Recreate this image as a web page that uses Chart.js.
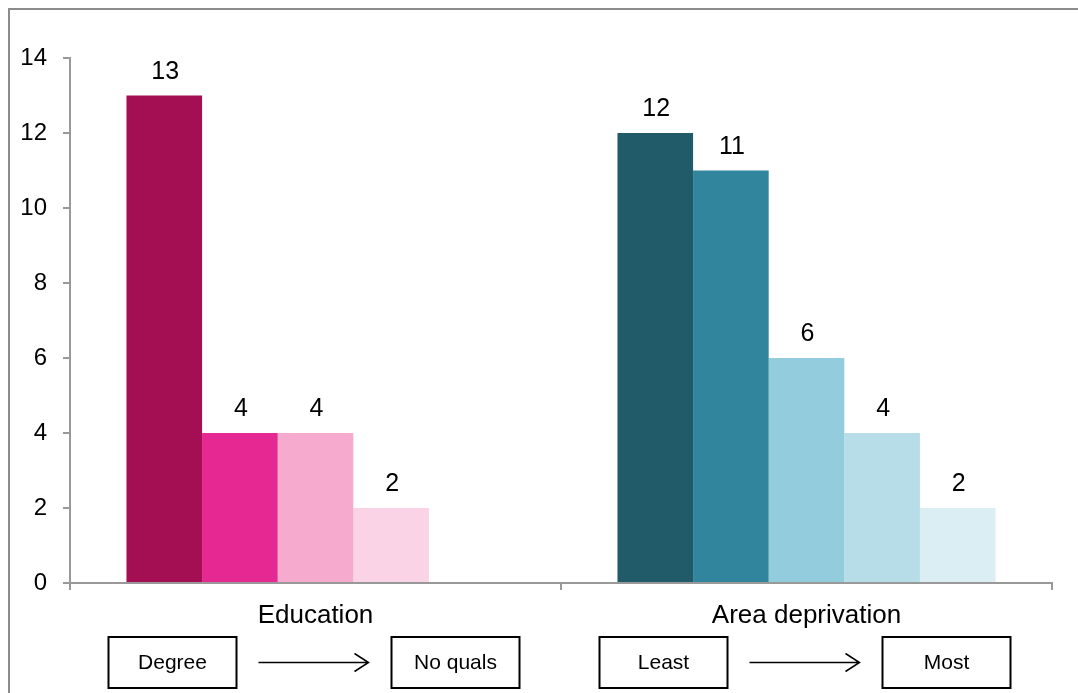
<!DOCTYPE html>
<html>
<head>
<meta charset="utf-8">
<script src="https://cdn.jsdelivr.net/npm/chart.js@4"></script>
<style>
  html, body { margin: 0; padding: 0; background: #fff; overflow: hidden; }
  #wrap { position: relative; width: 1078px; height: 693px; }
  #frame { position: absolute; left: 8px; top: 8px; width: 1100px; height: 720px; border: 2px solid #8c8c8c; box-sizing: border-box; pointer-events: none; }
</style>
</head>
<body>
<div id="wrap">
  <canvas id="chart" width="1078" height="693"></canvas>
  <div id="frame"></div>
</div>
<script>
// 分类与数据
const categories = ['Education', 'Area deprivation'];
const educationValues = [13, 4, 4, 2];
const deprivationValues = [12, 11, 6, 4, 2];
const educationColors = ['#A30F52', '#E62893', '#F6AACD', '#FAD3E6'];
const deprivationColors = ['#215B69', '#31869E', '#93CCDD', '#B7DEE8', '#DAEEF3'];
const yTicks = [0, 2, 4, 6, 8, 10, 12, 14];
// 每组下方的说明框
const groupEnds = [['Degree', 'No quals'], ['Least', 'Most']];

const FONT = 'Arial, "Liberation Sans", sans-serif';

// 5 个系列，每个系列两个分类
const datasets = deprivationValues.map((_, i) => ({
    data: [educationValues[i] ?? null, deprivationValues[i]],
    backgroundColor: [educationColors[i] || '#fff', deprivationColors[i]],
    borderWidth: 0,
    barPercentage: 1,
    categoryPercentage: 0.77
}));

// 柱顶数值
const valueLabels = {
    id: 'valueLabels',
    afterDatasetsDraw(chart) {
        const ctx = chart.ctx;
        ctx.save();
        ctx.fillStyle = '#000';
        ctx.font = '25px ' + FONT;
        ctx.textAlign = 'center';
        ctx.textBaseline = 'alphabetic';
        chart.data.datasets.forEach((ds, di) => {
            chart.getDatasetMeta(di).data.forEach((bar, i) => {
                const v = ds.data[i];
                if (v === null || v === undefined) return;
                ctx.fillText(String(v), bar.x + 1, bar.y - 17);
            });
        });
        ctx.restore();
    }
};

// 下方的框和箭头
const rangeBoxes = {
    id: 'rangeBoxes',
    afterDraw(chart) {
        const ctx = chart.ctx;
        const x = chart.scales.x;
        const top = 637, h = 51, w = 128, mid = top + h / 2;
        ctx.save();
        ctx.strokeStyle = '#000';
        ctx.lineWidth = 2;
        ctx.fillStyle = '#000';
        ctx.font = '21px ' + FONT;
        ctx.textAlign = 'center';
        ctx.textBaseline = 'middle';
        groupEnds.forEach((pair, i) => {
            const c = x.getPixelForValue(i);
            [c - 143, c + 140].forEach((bx, j) => {
                ctx.strokeRect(bx - w / 2, top, w, h);
                ctx.fillText(pair[j], bx, mid + 1);
            });
            // 箭头
            const a0 = c - 57, a1 = c + 53;
            ctx.lineWidth = 1.5;
            ctx.beginPath();
            ctx.moveTo(a0, mid);
            ctx.lineTo(a1, mid);
            ctx.moveTo(a1 - 14, mid - 9);
            ctx.lineTo(a1, mid);
            ctx.lineTo(a1 - 14, mid + 9);
            ctx.stroke();
            ctx.lineWidth = 2;
        });
        ctx.restore();
    }
};

new Chart(document.getElementById('chart').getContext('2d'), {
    type: 'bar',
    data: { labels: categories, datasets: datasets },
    options: {
        responsive: false,
        animation: false,
        layout: { padding: { left: 0, right: 26, top: 58, bottom: 0 } },
        plugins: { legend: { display: false }, tooltip: { enabled: false } },
        scales: {
            x: {
                grid: { display: true, drawOnChartArea: false, offset: true, tickLength: 7, color: '#999', lineWidth: 2 },
                border: { display: true, color: '#999', width: 2 },
                ticks: { color: '#000', font: { family: FONT, size: 26 }, padding: 10 },
                afterFit(s) { s.height = 110; }
            },
            y: {
                min: 0,
                max: 14,
                grid: { display: true, drawOnChartArea: false, tickLength: 7, color: '#999', lineWidth: 2 },
                border: { display: true, color: '#999', width: 2 },
                afterBuildTicks(s) { s.ticks = yTicks.map(v => ({ value: v })); },
                ticks: { color: '#000', font: { family: FONT, size: 24 }, padding: 16 },
                afterFit(s) { s.width = 70; }
            }
        }
    },
    plugins: [valueLabels, rangeBoxes]
});
</script>
</body>
</html>
